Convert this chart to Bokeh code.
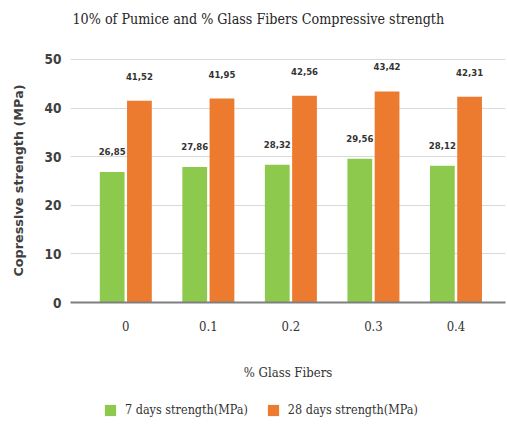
from bokeh.plotting import figure
from bokeh.layouts import column
from bokeh.models import (ColumnDataSource, Range1d, FixedTicker, Legend, LegendItem,
                          Label)
from bokeh.core.properties import value
from bokeh.embed import file_html
from bokeh.resources import INLINE

# Glass fiber content (%) and compressive strength results
fibers = ["0", "0.1", "0.2", "0.3", "0.4"]
strength_7d = [26.85, 27.86, 28.32, 29.56, 28.12]
strength_28d = [41.52, 41.95, 42.56, 43.42, 42.31]
y_ticks = [0, 10, 20, 30, 40, 50]
series_names = ["7 days strength(MPa)", "28 days strength(MPa)"]
chart_title = "10% of Pumice and % Glass Fibers Compressive strength"

GREEN = "#8CC94C"
ORANGE = "#EC7B30"
SERIF = "DejaVu Serif Condensed"

idx = list(range(len(fibers)))
bw = 0.30
off = 0.165


def fmt(v):
    return f"{v:.2f}".replace(".", ",")


def strip(height):
    s = figure(width=507, height=height, output_backend="svg", toolbar_location=None,
               x_range=Range1d(0, 1), y_range=Range1d(0, 1), min_border=0)
    s.axis.visible = False
    s.grid.visible = False
    s.outline_line_color = None
    return s


# title strip
top = strip(40)
top.add_layout(Label(x=2, y=22, x_units="screen", y_units="screen", text=chart_title,
                     text_font=SERIF, text_font_size="14.2px", text_color="#262626",
                     text_align="left", text_baseline="middle"))

src7 = ColumnDataSource(dict(x=[i - off for i in idx], top=strength_7d,
                             lab=[fmt(v) for v in strength_7d]))
src28 = ColumnDataSource(dict(x=[i + off for i in idx], top=strength_28d,
                              lab=[fmt(v) for v in strength_28d]))

p = figure(frame_width=435, frame_height=244, output_backend="svg", toolbar_location=None,
           x_range=Range1d(-0.67, 4.6), y_range=Range1d(0, 50.2),
           min_border_left=70, min_border_right=2, min_border_top=18,
           min_border_bottom=87)
p.background_fill_color = "white"
p.border_fill_color = "white"
p.outline_line_color = None

p.vbar(x="x", top="top", width=bw, source=src7, fill_color=GREEN, line_color=None)
p.vbar(x="x", top="top", width=bw, source=src28, fill_color=ORANGE, line_color=None)

for s, yo in ((src7, -17), (src28, -21)):
    p.text(x="x", y="top", text="lab", source=s, text_align="center",
           text_baseline="bottom", y_offset=yo, text_font=value("DejaVu Sans Condensed"),
           text_font_size="9.5px", text_font_style="bold", text_color="#333333")

# axes
p.xaxis.ticker = FixedTicker(ticks=idx)
p.xaxis.major_label_overrides = {i: f for i, f in zip(idx, fibers)}
p.xaxis.major_label_text_font = SERIF
p.xaxis.major_label_text_font_size = "13px"
p.xaxis.major_label_text_color = "#333333"
p.xaxis.major_label_standoff = 12
p.xaxis.major_tick_line_color = None
p.xaxis.minor_tick_line_color = None
p.xaxis.axis_line_color = "#7f7f7f"
p.xaxis.axis_line_width = 2
p.xaxis.axis_label = "% Glass Fibers"
p.xaxis.axis_label_text_font = SERIF
p.xaxis.axis_label_text_font_size = "13px"
p.xaxis.axis_label_text_font_style = "normal"
p.xaxis.axis_label_text_color = "#333333"
p.xaxis.axis_label_standoff = 31

p.yaxis.ticker = FixedTicker(ticks=y_ticks)
p.yaxis.major_label_text_font = "DejaVu Sans Condensed"
p.yaxis.major_label_text_font_style = "bold"
p.yaxis.major_label_text_font_size = "13.5px"
p.yaxis.major_label_text_color = "#404040"
p.yaxis.major_label_standoff = 3
p.yaxis.major_tick_line_color = None
p.yaxis.minor_tick_line_color = None
p.yaxis.axis_line_color = None
p.yaxis.axis_label = "Copressive strength (MPa)"
p.yaxis.axis_label_text_font = "DejaVu Sans"
p.yaxis.axis_label_text_font_style = "bold"
p.yaxis.axis_label_text_font_size = "12.8px"
p.yaxis.axis_label_text_color = "#404040"
p.yaxis.axis_label_standoff = 16

p.xgrid.grid_line_color = None
p.ygrid.grid_line_color = "#d9d9d9"
p.ygrid.grid_line_width = 1

# legend strip under the chart (zero-height swatch glyphs, only used by the legend)
lg = strip(36)
g7 = lg.vbar(x=[-5], bottom=[0], top=[0], width=0.1, fill_color=GREEN, line_color=None)
g28 = lg.vbar(x=[-5], bottom=[0], top=[0], width=0.1, fill_color=ORANGE, line_color=None)
legend = Legend(items=[LegendItem(label=series_names[0], renderers=[g7]),
                       LegendItem(label=series_names[1], renderers=[g28])],
                orientation="horizontal", location=(33, 8),
                label_text_font=SERIF, label_text_font_size="12.5px",
                label_text_color="#333333", glyph_width=14, glyph_height=14,
                label_height=14, spacing=18, label_standoff=8, border_line_color=None,
                background_fill_alpha=0, margin=0, padding=0)
lg.add_layout(legend, "center")

layout = column(top, p, lg, spacing=0)
open("out.html", "w").write(file_html(layout, INLINE))
